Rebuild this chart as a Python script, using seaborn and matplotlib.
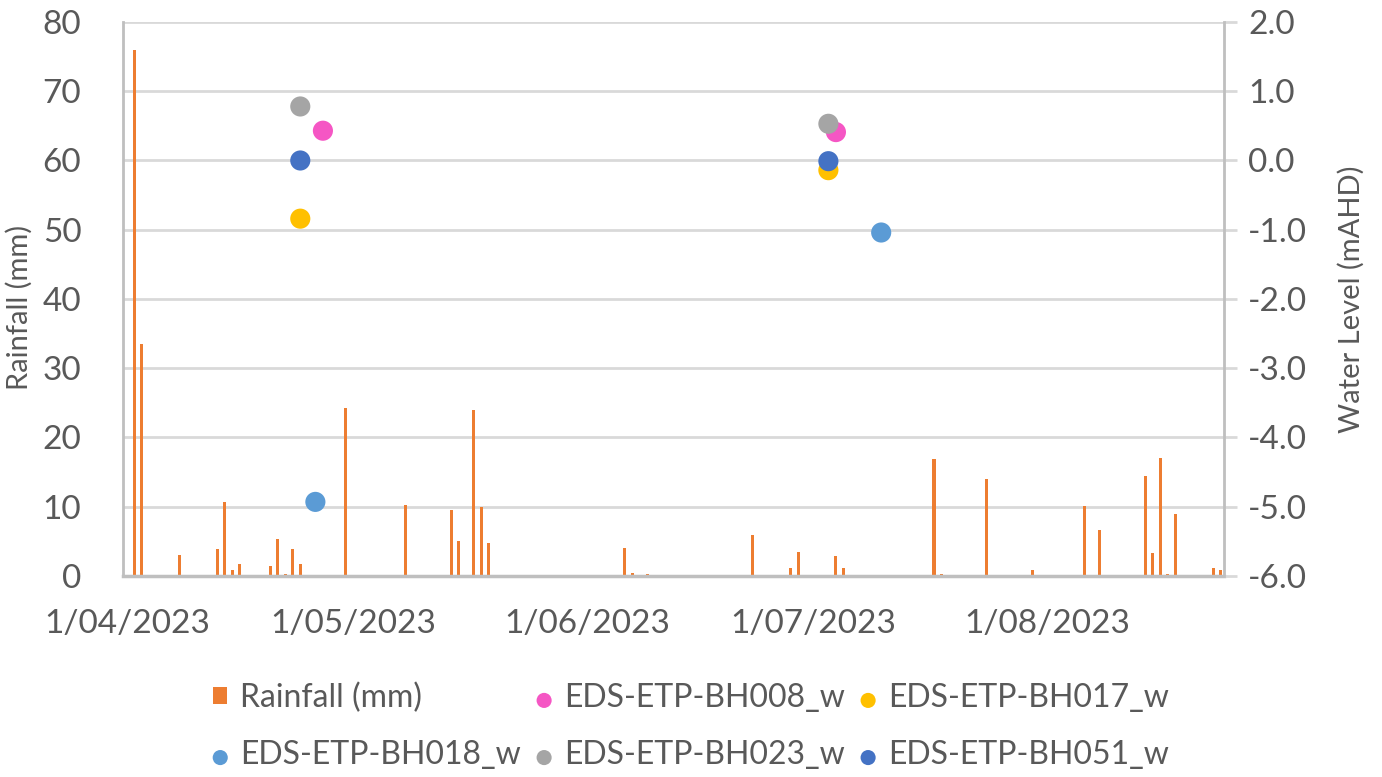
import matplotlib
matplotlib.use("Agg")
import matplotlib.dates as mdates  # noqa: E402
import matplotlib.pyplot as plt  # noqa: E402
import pandas as pd  # noqa: E402
import seaborn as sns  # noqa: E402
from matplotlib.patches import Patch  # noqa: E402
from matplotlib.ticker import FormatStrFormatter, MultipleLocator  # noqa: E402

# daily rainfall (mm), only non-zero days plus the first day of the record
RAIN_DATES = ["2023-04-01", "2023-04-02", "2023-04-03", "2023-04-08", "2023-04-13",
              "2023-04-14", "2023-04-15", "2023-04-16", "2023-04-20", "2023-04-21",
              "2023-04-22", "2023-04-23", "2023-04-24", "2023-04-25", "2023-04-30",
              "2023-05-08", "2023-05-14", "2023-05-15", "2023-05-17", "2023-05-18",
              "2023-05-19", "2023-06-06", "2023-06-07", "2023-06-09", "2023-06-23",
              "2023-06-28", "2023-06-29", "2023-07-04", "2023-07-05", "2023-07-17",
              "2023-07-18", "2023-07-24", "2023-07-30", "2023-08-06", "2023-08-08",
              "2023-08-14", "2023-08-15", "2023-08-16", "2023-08-17", "2023-08-18",
              "2023-08-23", "2023-08-24"]
RAIN_MM = [0.0, 76.0, 33.5, 3.0, 3.9,
           10.7, 0.9, 1.8, 1.4, 5.3,
           0.3, 3.9, 1.7, 0.2, 24.3,
           10.3, 9.6, 5.1, 24.0, 9.9,
           4.7, 4.1, 0.5, 0.3, 5.9,
           1.1, 3.5, 2.9, 1.1, 16.9,
           0.3, 14.0, 0.9, 10.1, 6.7,
           14.5, 3.3, 17.0, 0.3, 8.9,
           1.1, 0.9]

# groundwater level readings (mAHD)
BORES = ["EDS-ETP-BH008_w", "EDS-ETP-BH017_w", "EDS-ETP-BH018_w",
         "EDS-ETP-BH023_w", "EDS-ETP-BH051_w"]
BORE_COLORS = ["#F556C4", "#FFC000", "#5B9BD5", "#A5A5A5", "#4472C4"]
BH008_DATES = ["2023-04-27", "2023-07-04"]
BH008_LEVEL = [0.43, 0.41]
BH017_DATES = ["2023-04-24", "2023-07-03"]
BH017_LEVEL = [-0.84, -0.14]
BH018_DATES = ["2023-04-26", "2023-07-10"]
BH018_LEVEL = [-4.93, -1.04]
BH023_DATES = ["2023-04-24", "2023-07-03"]
BH023_LEVEL = [0.78, 0.53]
BH051_DATES = ["2023-04-24", "2023-07-03"]
BH051_LEVEL = [0.00, -0.01]

LEVELS = [(BH008_DATES, BH008_LEVEL), (BH017_DATES, BH017_LEVEL),
          (BH018_DATES, BH018_LEVEL), (BH023_DATES, BH023_LEVEL),
          (BH051_DATES, BH051_LEVEL)]

RAIN_COLOR = "#ED7D31"
TEXT = "#595959"
GRID = "#D9D9D9"
FONT = 24


def to_num(dates):
    return mdates.date2num(pd.to_datetime(dates))


def fmt_date(v, _):
    d = mdates.num2date(v)
    return f"{d.day}/{d.month:02d}/{d.year}"


sns.set_theme(style="white")
plt.rcParams["font.family"] = ["Lato", "DejaVu Sans"]
plt.rcParams["axes.unicode_minus"] = False

fig = plt.figure(figsize=(13.82, 7.77), dpi=100)
ax = fig.add_axes([0.089, 0.2587, 0.797, 0.713])

rain = pd.DataFrame({"x": to_num(RAIN_DATES), "mm": RAIN_MM})
sns.barplot(data=rain, x="x", y="mm", native_scale=True, width=0.4,
            color=RAIN_COLOR, saturation=1, errorbar=None, linewidth=0, ax=ax)

ax.set_xlim(rain["x"].min() - 0.5, rain["x"].max() + 0.5)
ax.set_ylim(0, 80)
ax.yaxis.set_major_locator(MultipleLocator(10))
ax.xaxis.set_major_locator(mdates.MonthLocator())
ax.xaxis.set_major_formatter(plt.FuncFormatter(fmt_date))
ax.grid(axis="y", color=GRID, lw=2)
ax.set_axisbelow(True)
ax.set_xlabel("")
ax.set_ylabel("Rainfall (mm)", fontsize=21, color=TEXT, labelpad=1)
ax.yaxis.set_label_coords(-0.0815, 0.485)
ax.tick_params(axis="x", length=0, pad=24, labelsize=FONT, labelcolor=TEXT)
ax.tick_params(axis="y", length=0, pad=30, labelsize=FONT, labelcolor=TEXT)
for side in ["top", "right"]:
    ax.spines[side].set_visible(False)
ax.spines["left"].set_color("#BFBFBF")
ax.spines["left"].set_linewidth(2)
ax.spines["bottom"].set_color("#BFBFBF")
ax.spines["bottom"].set_linewidth(2.5)

ax2 = ax.twinx()
for name, color, (dates, level) in zip(BORES, BORE_COLORS, LEVELS):
    sns.scatterplot(x=to_num(dates), y=level, color=color, s=210,
                    edgecolor="none", label=name, legend=False, ax=ax2)
ax2.set_ylim(-6, 2)
ax2.yaxis.set_major_locator(MultipleLocator(1))
ax2.yaxis.set_major_formatter(FormatStrFormatter("%.1f"))
ax2.set_ylabel("Water Level (mAHD)", fontsize=21, color=TEXT, labelpad=22)
ax2.tick_params(axis="y", length=9, width=2, color=GRID, pad=8,
                labelsize=FONT, labelcolor=TEXT)
for side in ["top", "left", "bottom"]:
    ax2.spines[side].set_visible(False)
ax2.spines["right"].set_color("#BFBFBF")
ax2.spines["right"].set_linewidth(2)

handles, labels = ax2.get_legend_handles_labels()
rain_patch = Patch(facecolor=RAIN_COLOR, edgecolor="none", label="Rainfall (mm)")
all_h = [rain_patch] + handles
all_l = ["Rainfall (mm)"] + labels
order = [0, 3, 1, 4, 2, 5]  # ncol fills column-wise; keep Excel's row order
fig.legend([all_h[i] for i in order], [all_l[i] for i in order],
           loc="lower center", bbox_to_anchor=(0.5, -0.028), ncol=3, frameon=False,
           fontsize=23, labelcolor=TEXT, handlelength=0.45, handleheight=0.45,
           handletextpad=0.4, columnspacing=0.5, labelspacing=0.85,
           markerscale=0.75)

fig.savefig("out.png", dpi=100)
